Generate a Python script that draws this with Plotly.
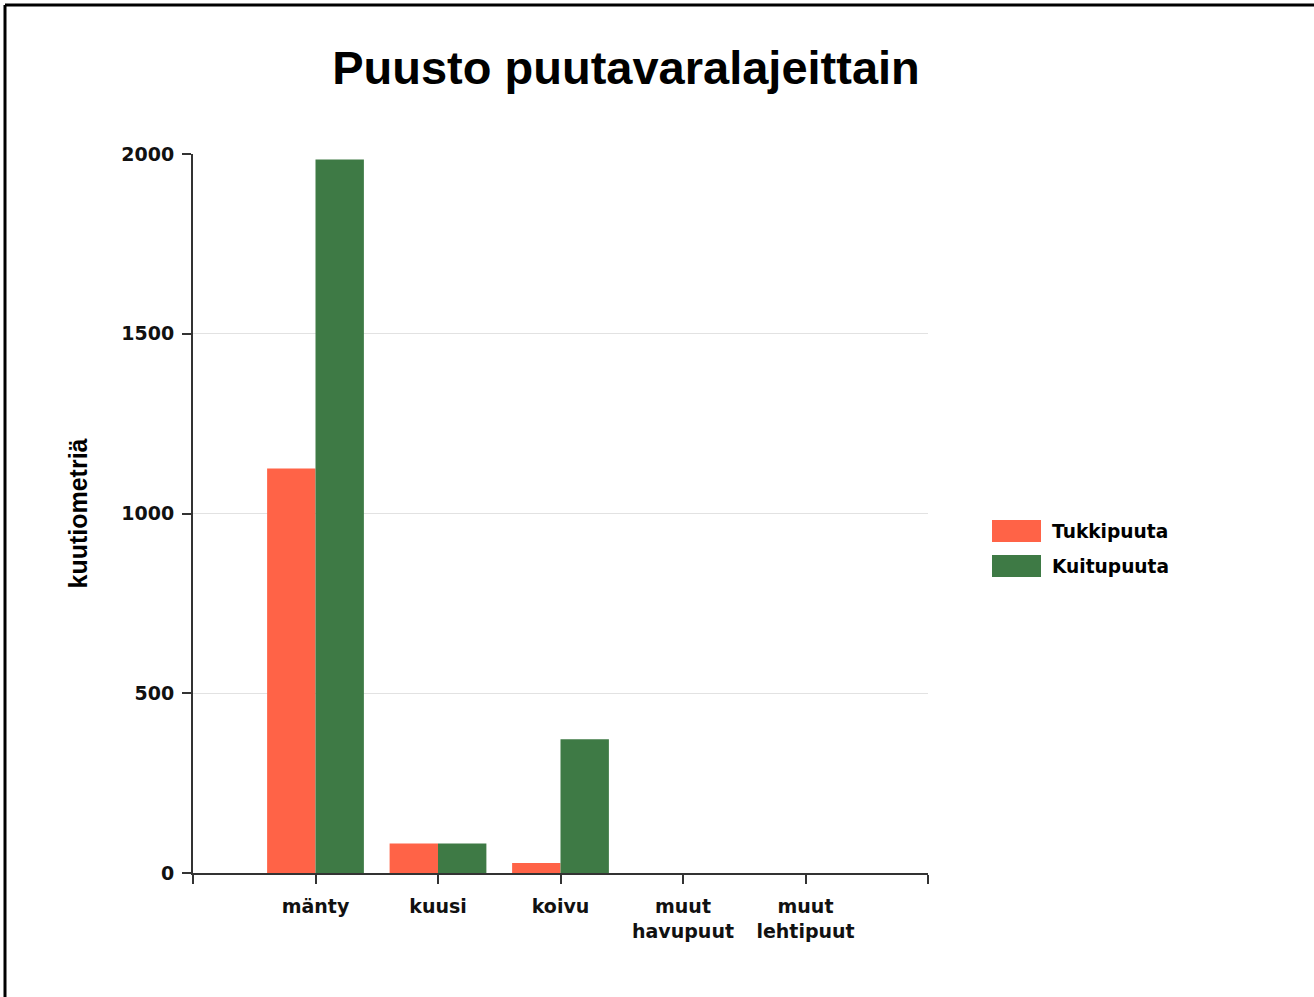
import plotly.graph_objects as go

categories = ["mänty", "kuusi", "koivu", "muut<br>havupuut", "muut<br>lehtipuut"]
series_names = ["Tukkipuuta", "Kuitupuuta"]
tukkipuuta = [1125, 82, 28, 0, 0]
kuitupuuta = [1985, 82, 372, 0, 0]
y_ticks = [0, 500, 1000, 1500, 2000]

colors = ["#FF6347", "#3E7A45"]
W, H = 1314, 997
L, R, T, B = 193, 386, 154, 124
pw, ph = W - L - R, H - T - B

def px_x(px):
    return (px - L) / pw

def px_y(py):
    return (H - B - py) / ph

xs = list(range(len(categories)))
fig = go.Figure()
for name, vals, c in zip(series_names, [tukkipuuta, kuitupuuta], colors):
    fig.add_trace(go.Bar(x=xs, y=vals, name=name, marker=dict(color=c, line=dict(width=0)),
                         showlegend=False))

tickfont = dict(family="DejaVu Sans", size=19, color="#111111", weight="bold")
fig.update_layout(
    width=W, height=H,
    margin=dict(l=L, r=R, t=T, b=B, autoexpand=False),
    paper_bgcolor="white", plot_bgcolor="white",
    barmode="group", bargap=0.21, bargroupgap=0,
    title=dict(text="<b>Puusto puutavaralajeittain</b>", x=626 / W, xanchor="center",
               y=1 - 68 / H, yanchor="middle", xref="container",
               font=dict(family="Liberation Sans", size=47, color="#000000")),
    xaxis=dict(range=[-1, len(categories)], tickmode="array",
               tickvals=list(range(-1, len(categories) + 1)),
               ticktext=[""] + categories + [""],
               ticks="outside", ticklen=9, tickwidth=2, tickcolor="#333333",
               showline=True, linecolor="#333333", linewidth=2,
               showgrid=False, zeroline=False, tickfont=tickfont, ticklabelstandoff=6),
    yaxis=dict(range=[0, 2000], tickvals=y_ticks, ticks="outside", ticklen=9, tickwidth=2,
               tickcolor="#333333", showline=True, linecolor="#333333", linewidth=2,
               showgrid=True, gridcolor="#E2E2E2", gridwidth=1, zeroline=False,
               tickfont=tickfont, ticklabelstandoff=4,
               title=dict(text="<b>kuutiometriä</b>", standoff=27,
                          font=dict(family="Liberation Sans", size=25, color="#000000"))),
)

# custom legend with large swatches
for i, (name, c) in enumerate(zip(series_names, colors)):
    cy = 531 + i * 35
    fig.add_shape(type="rect", xref="paper", yref="paper",
                  x0=px_x(992), x1=px_x(1041), y0=px_y(cy + 11), y1=px_y(cy - 11),
                  fillcolor=c, line=dict(width=0))
    fig.add_annotation(xref="paper", yref="paper", x=px_x(1050), y=px_y(cy),
                       xanchor="left", yanchor="middle", showarrow=False,
                       text=name, font=dict(family="DejaVu Sans", size=18.6, color="#000000",
                                            weight="bold"))

# frame lines (top and left)
fig.add_shape(type="line", xref="paper", yref="paper", x0=px_x(5), x1=px_x(W + 5),
              y0=px_y(5), y1=px_y(5), line=dict(color="black", width=3))
fig.add_shape(type="line", xref="paper", yref="paper", x0=px_x(5), x1=px_x(5),
              y0=px_y(5), y1=px_y(H + 5), line=dict(color="black", width=3))

fig.write_html("out.html", config={"displayModeBar": False},
               post_script="document.body.style.margin='0';document.body.style.overflow='hidden';")
